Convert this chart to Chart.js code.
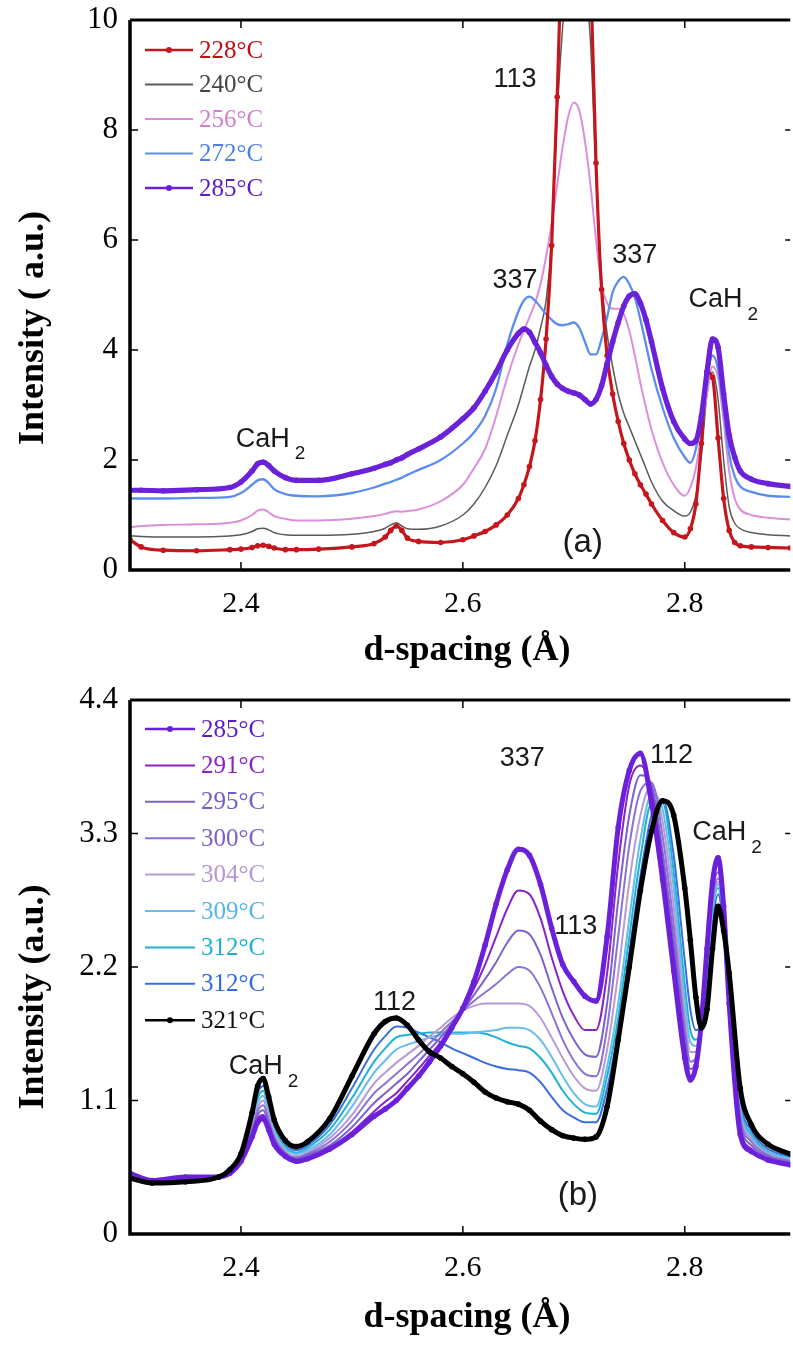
<!DOCTYPE html>
<html><head><meta charset="utf-8">
<script src="https://cdn.jsdelivr.net/npm/chart.js@4.4.1/dist/chart.umd.min.js"></script>
<style>
html,body{margin:0;padding:0;background:#fff;}
#wrap{position:relative;width:793px;height:1347px;overflow:hidden;background:#fff;}
canvas{position:absolute;left:0;}
</style></head><body>
<div id="wrap">
<canvas id="ca" width="793" height="675" style="top:0;width:793px;height:675px"></canvas>
<canvas id="cb" width="793" height="672" style="top:675px;width:793px;height:672px"></canvas>
</div>
<script>
// ---------------- Panel (a) data ----------------
const X_A = [2.30,2.31,2.33,2.36,2.39, 2.40,2.41,2.415,2.42,2.425,2.43,2.44,2.45,
  2.47,2.50,2.52,2.53,2.535,2.54,2.545,2.55,2.56,2.58,
  2.60,2.61,2.62,2.63,2.64,2.65,
  2.655,2.66,2.665,2.67,2.675,2.68,2.685,2.69,2.695,2.70,
  2.705,2.71,2.715,2.72,2.725,2.73,2.735,2.74,2.745,2.75,
  2.755,2.76,2.765,2.77,2.78,2.79,2.80,
  2.805,2.81,2.815,2.82,2.825,2.83,2.835,2.84,2.845,2.85,
  2.86,2.875,2.895];
const A228 = [0.55,0.42,0.36,0.35,0.37, 0.38,0.41,0.44,0.45,0.43,0.40,0.37,0.37,
  0.38,0.42,0.48,0.6,0.72,0.8,0.72,0.58,0.52,0.5,
  0.55,0.62,0.7,0.82,1.0,1.3,
  1.55,1.88,2.35,3.1,4.2,5.9,8.6,12,15.5,18,
  17,14.5,11,7.4,5.1,3.9,3.2,2.7,2.3,2.0,
  1.75,1.55,1.38,1.2,0.9,0.68,0.6,
  0.75,1.2,2.3,3.6,3.5,2.4,1.3,0.72,0.5,0.44,
  0.42,0.41,0.4];
const A240 = [0.62,0.61,0.6,0.6,0.62, 0.64,0.7,0.75,0.76,0.73,0.68,0.64,0.63,
  0.63,0.65,0.7,0.76,0.82,0.86,0.8,0.75,0.74,0.8,
  1.0,1.2,1.5,1.9,2.45,3.0,
  3.35,3.7,4.0,4.4,4.9,6.0,8.3,9.9,11.2,12,
  11.7,10.8,9.6,7.2,5.3,4.3,3.7,3.2,2.85,2.6,
  2.35,2.1,1.85,1.6,1.25,1.08,0.98,
  1.05,1.35,2.1,3.2,3.6,3.1,2.0,1.15,0.85,0.75,
  0.68,0.64,0.62];
const A256 = [0.78,0.8,0.82,0.83,0.86, 0.9,1.0,1.08,1.1,1.05,0.98,0.93,0.9,
  0.9,0.93,0.98,1.02,1.05,1.07,1.06,1.07,1.1,1.25,
  1.55,1.85,2.2,2.8,3.5,4.1,
  4.35,4.6,4.85,5.2,5.7,6.3,7.0,7.7,8.25,8.5,
  8.35,7.8,7.0,6.0,5.2,4.85,4.75,4.75,4.65,4.35,
  3.9,3.4,2.95,2.55,1.95,1.55,1.35,
  1.5,1.85,2.5,3.2,3.7,3.5,2.7,1.8,1.3,1.1,
  1.0,0.95,0.92];
const A272 = [1.3,1.3,1.3,1.31,1.33, 1.4,1.55,1.63,1.65,1.58,1.47,1.38,1.35,
  1.34,1.4,1.5,1.57,1.6,1.64,1.68,1.73,1.82,2.0,
  2.3,2.5,2.8,3.3,4.1,4.7,
  4.9,4.97,4.9,4.78,4.65,4.55,4.47,4.45,4.47,4.5,
  4.4,4.15,3.92,3.92,4.2,4.6,5.05,5.25,5.33,5.2,
  4.95,4.55,4.1,3.65,2.95,2.4,2.05,
  1.95,2.2,2.8,3.5,3.9,3.65,2.9,2.1,1.7,1.52,
  1.42,1.35,1.33];
const A285 = [1.45,1.45,1.44,1.46,1.5, 1.6,1.8,1.93,1.96,1.9,1.8,1.68,1.63,
  1.63,1.75,1.85,1.92,1.95,2.0,2.04,2.1,2.2,2.42,
  2.75,2.95,3.25,3.6,4.0,4.3,
  4.38,4.32,4.14,3.95,3.72,3.52,3.38,3.3,3.25,3.22,
  3.18,3.1,3.02,3.1,3.35,3.75,4.15,4.5,4.8,4.98,
  5.02,4.85,4.55,4.15,3.3,2.7,2.38,
  2.3,2.35,2.8,3.6,4.2,4.05,3.2,2.45,2.05,1.8,
  1.65,1.57,1.52];
const LABELS_A = ['228°C','240°C','256°C','272°C','285°C'];

// ---------------- Panel (b) data ----------------
const X_B = [2.30,2.32,2.35,2.38,2.39,
  2.40,2.41,2.415,2.42,2.425,2.43,2.44,2.45,2.46,
  2.48,2.50,2.52,2.53,2.54,2.55,2.56,2.57,2.58,2.59,
  2.60,2.61,2.62,2.63,2.64,2.65,2.66,2.67,2.68,2.69,
  2.70,2.71,2.72,2.73,2.74,2.75,2.76,2.77,2.78,2.79,2.80,
  2.805,2.81,2.815,2.82,2.825,2.83,2.835,2.84,
  2.85,2.86,2.875,2.895];
const B285 = [0.5,0.44,0.47,0.47,0.5,
  0.6,0.8,0.92,0.95,0.86,0.74,0.64,0.6,0.62,
  0.7,0.82,0.97,1.03,1.1,1.2,1.3,1.42,1.55,1.7,
  1.86,2.08,2.38,2.72,3.0,3.17,3.12,2.88,2.52,2.22,
  2.08,1.96,1.92,2.45,3.35,3.82,3.96,3.55,2.92,2.17,1.45,
  1.27,1.38,1.75,2.35,2.9,3.1,2.7,1.9,
  0.82,0.68,0.61,0.57];
const B291 = [0.48,0.44,0.46,0.47,0.5,
  0.61,0.82,0.95,0.98,0.88,0.76,0.65,0.61,0.63,
  0.71,0.84,1.01,1.09,1.16,1.26,1.36,1.47,1.58,1.71,
  1.85,2.02,2.22,2.45,2.68,2.83,2.8,2.6,2.28,2.0,
  1.8,1.68,1.68,2.15,3.05,3.7,3.86,3.65,3.05,2.3,1.55,
  1.3,1.38,1.72,2.3,2.85,3.05,2.72,1.95,
  0.88,0.7,0.62,0.58];
const B295 = [0.47,0.43,0.45,0.47,0.51,
  0.62,0.84,0.98,1.02,0.91,0.78,0.66,0.62,0.65,
  0.73,0.88,1.08,1.16,1.24,1.32,1.42,1.52,1.62,1.73,
  1.84,1.97,2.1,2.24,2.4,2.5,2.47,2.3,2.03,1.78,
  1.6,1.48,1.46,1.9,2.75,3.45,3.78,3.7,3.15,2.42,1.62,
  1.36,1.42,1.72,2.28,2.8,2.98,2.7,1.98,
  0.93,0.73,0.64,0.59];
const B300 = [0.47,0.43,0.45,0.47,0.51,
  0.62,0.86,1.01,1.06,0.94,0.8,0.67,0.63,0.66,
  0.76,0.93,1.16,1.24,1.32,1.4,1.48,1.57,1.66,1.75,
  1.84,1.92,1.99,2.06,2.14,2.2,2.17,2.03,1.82,1.6,
  1.43,1.32,1.3,1.7,2.45,3.2,3.65,3.72,3.28,2.55,1.7,
  1.42,1.45,1.7,2.25,2.75,2.93,2.68,2.0,
  0.97,0.76,0.65,0.6];
const B304 = [0.46,0.43,0.45,0.47,0.51,
  0.63,0.88,1.04,1.1,0.97,0.82,0.68,0.64,0.67,
  0.79,0.98,1.24,1.33,1.41,1.48,1.55,1.63,1.7,1.78,
  1.84,1.88,1.9,1.9,1.9,1.9,1.88,1.78,1.62,1.45,
  1.3,1.2,1.18,1.52,2.15,2.9,3.45,3.7,3.4,2.7,1.8,
  1.5,1.5,1.7,2.2,2.72,2.9,2.65,2.02,
  1.0,0.78,0.66,0.61];
const B309 = [0.46,0.43,0.45,0.47,0.52,
  0.63,0.9,1.08,1.14,1.0,0.85,0.7,0.66,0.69,
  0.82,1.05,1.33,1.43,1.52,1.56,1.59,1.62,1.64,1.65,
  1.65,1.66,1.67,1.68,1.7,1.7,1.68,1.6,1.46,1.3,
  1.16,1.07,1.05,1.38,1.9,2.6,3.25,3.62,3.5,2.85,1.92,
  1.58,1.55,1.7,2.15,2.68,2.88,2.62,2.05,
  1.03,0.8,0.67,0.62];
const B312C = [0.46,0.42,0.44,0.47,0.52,
  0.64,0.93,1.12,1.18,1.04,0.88,0.72,0.67,0.71,
  0.86,1.12,1.42,1.53,1.62,1.64,1.65,1.66,1.66,1.66,
  1.66,1.66,1.65,1.62,1.58,1.55,1.53,1.45,1.33,1.18,
  1.07,1.0,0.99,1.3,1.78,2.45,3.1,3.55,3.55,2.98,2.05,
  1.68,1.6,1.7,2.1,2.65,2.85,2.6,2.08,
  1.06,0.82,0.68,0.63];
const B312B = [0.46,0.42,0.44,0.47,0.52,
  0.64,0.96,1.16,1.22,1.08,0.9,0.74,0.69,0.73,
  0.9,1.2,1.52,1.63,1.71,1.7,1.66,1.62,1.58,1.53,
  1.49,1.45,1.41,1.38,1.36,1.35,1.33,1.25,1.13,1.02,
  0.96,0.92,0.92,1.2,1.68,2.32,2.95,3.45,3.58,3.12,2.25,
  1.85,1.68,1.7,2.0,2.55,2.8,2.55,2.1,
  1.1,0.85,0.7,0.64];
const B321 = [0.46,0.42,0.43,0.47,0.53,
  0.66,1.0,1.22,1.28,1.13,0.94,0.77,0.72,0.76,
  0.95,1.3,1.65,1.75,1.78,1.72,1.6,1.5,1.45,1.38,
  1.32,1.25,1.17,1.12,1.09,1.07,1.02,0.93,0.86,0.81,
  0.79,0.78,0.8,1.05,1.6,2.2,2.83,3.32,3.57,3.45,2.85,
  2.42,1.95,1.7,1.85,2.35,2.7,2.5,2.15,
  1.2,0.9,0.74,0.66];
const LABELS_B = ['285°C','291°C','295°C','300°C','304°C','309°C','312°C','312°C','321°C'];

// ---------------- axes ----------------
const X_TICKS = [2.4, 2.6, 2.8];
const Y_TICKS_A = [0, 2, 4, 6, 8, 10];
const Y_TICKS_B = [0, 1.1, 2.2, 3.3, 4.4];

// ---------------- annotations (data coords) ----------------
const NOTES_A = [
  {t:'113', x:2.647, y:8.91}, {t:'337', x:2.647, y:5.27}, {t:'337', x:2.755, y:5.71},
  {t:'CaH', sub:'2', x:2.8277, y:4.91}, {t:'CaH', sub:'2', x:2.4196, y:2.38},
  {t:'(a)', x:2.708, y:0.49, big:true}
];
const NOTES_B = [
  {t:'337', x:2.6536, y:3.92}, {t:'112', x:2.788, y:3.94}, {t:'CaH', sub:'2', x:2.831, y:3.31},
  {t:'113', x:2.7018, y:2.53}, {t:'112', x:2.5384, y:1.91}, {t:'CaH', sub:'2', x:2.4134, y:1.376},
  {t:'(b)', x:2.7036, y:0.313, big:true}
];

const SERIF = '"Liberation Serif", "Times New Roman", serif';
const SANS = '"Liberation Sans", Arial, Helvetica, sans-serif';

function ds(label, xs, ys, color, width, order, dots, textColor) {
  return {
    label, data: xs.map((x, i) => ({x, y: ys[i]})),
    borderColor: color, backgroundColor: color, borderWidth: width,
    pointRadius: dots ? 2.8 : 0, pointBackgroundColor: color, pointBorderWidth: 0,
    pointHoverRadius: 0, cubicInterpolationMode: 'monotone', order,
    dots, textColor: textColor || color
  };
}

const decor = {
  id: 'decor',
  afterDatasetsDraw(chart, args, o) {
    const {ctx, chartArea: ca, scales: {x, y}} = chart;
    ctx.save();
    ctx.strokeStyle = '#000';
    ctx.lineWidth = 1.5;
    o.xTicks.forEach(v => {
      const px = x.getPixelForValue(v);
      ctx.beginPath();
      ctx.moveTo(px, ca.bottom); ctx.lineTo(px, ca.bottom - 8);
      ctx.moveTo(px, ca.top); ctx.lineTo(px, ca.top + 8);
      ctx.stroke();
    });
    o.yTicks.forEach(v => {
      const py = y.getPixelForValue(v);
      ctx.beginPath();
      ctx.moveTo(ca.left, py); ctx.lineTo(ca.left + 8, py);
      ctx.moveTo(ca.right, py); ctx.lineTo(ca.right - 5, py);
      ctx.stroke();
    });
    ctx.lineWidth = 3.5;
    ctx.beginPath();
    ctx.moveTo(ca.left, ca.top); ctx.lineTo(ca.left, ca.bottom); ctx.lineTo(ca.right, ca.bottom);
    ctx.stroke();
    ctx.lineWidth = 3;
    ctx.beginPath(); ctx.moveTo(ca.left, ca.top); ctx.lineTo(ca.right, ca.top); ctx.stroke();

    // legend
    const L = o.legend;
    chart.data.datasets.forEach((d, i) => {
      const yy = ca.top + L.dy0 + i * L.dy;
      const x0 = ca.left + L.dx0;
      ctx.strokeStyle = d.borderColor;
      ctx.lineWidth = d.dots ? 2.6 : 2;
      ctx.beginPath(); ctx.moveTo(x0, yy); ctx.lineTo(x0 + L.len, yy); ctx.stroke();
      if (d.dots) {
        ctx.fillStyle = d.borderColor;
        ctx.beginPath(); ctx.arc(x0 + L.len / 2, yy, 3, 0, Math.PI * 2); ctx.fill();
      }
      ctx.fillStyle = d.textColor;
      ctx.font = L.size + 'px ' + SERIF;
      ctx.textAlign = 'left'; ctx.textBaseline = 'middle';
      ctx.fillText(d.label, x0 + L.len + 6, yy + 1);
    });

    // annotations
    ctx.fillStyle = '#1a1a1a';
    o.notes.forEach(n => {
      const px = x.getPixelForValue(n.x), py = y.getPixelForValue(n.y);
      ctx.font = (n.big ? 33 : 27) + 'px ' + SANS;
      ctx.textAlign = 'center'; ctx.textBaseline = 'middle';
      ctx.fillText(n.t, px, py);
      if (n.sub) {
        const w = ctx.measureText(n.t).width;
        ctx.font = '19px ' + SANS;
        ctx.textAlign = 'left';
        ctx.fillText(n.sub, px + w / 2 + 5, py + 15);
      }
    });

    // axis titles
    ctx.fillStyle = '#000';
    ctx.font = 'bold 36px ' + SERIF;
    ctx.textAlign = 'center'; ctx.textBaseline = 'middle';
    ctx.save();
    ctx.translate(o.yTitlePos[0], o.yTitlePos[1]);
    ctx.rotate(-Math.PI / 2);
    ctx.fillText(o.yTitle, 0, 0);
    ctx.restore();
    ctx.fillText(o.xTitle, o.xTitlePos[0], o.xTitlePos[1]);
    ctx.restore();
  }
};

function makeChart(id, datasets, yMax, yTicks, yFmt, padTop, xAxisH, decorOpts) {
  return new Chart(document.getElementById(id), {
    type: 'line',
    data: {datasets},
    options: {
      responsive: false, animation: false, devicePixelRatio: 1,
      layout: {padding: {top: padTop, right: 0, left: 0, bottom: 0}},
      plugins: {legend: {display: false}, tooltip: {enabled: false}, decor: decorOpts},
      elements: {line: {borderCapStyle: 'round', borderJoinStyle: 'round'}},
      scales: {
        x: {
          type: 'linear', min: 2.3, max: 2.895,
          grid: {display: false, drawTicks: false}, border: {display: false},
          afterBuildTicks: s => { s.ticks = X_TICKS.map(v => ({value: v})); },
          afterFit: s => { s.height = xAxisH; s.paddingLeft = 0; s.paddingRight = 0; },
          ticks: {padding: 16, color: '#000', font: {family: SERIF, size: 30},
                  autoSkip: false, maxRotation: 0, callback: v => Number(v).toFixed(1)}
        },
        y: {
          type: 'linear', min: 0, max: yMax,
          grid: {display: false, drawTicks: false}, border: {display: false},
          afterBuildTicks: s => { s.ticks = yTicks.map(v => ({value: v})); },
          afterFit: s => { s.width = 130; s.paddingTop = 0; s.paddingBottom = 0; },
          ticks: {padding: 12, color: '#000', font: {family: SERIF, size: 31},
                  autoSkip: false, callback: yFmt}
        }
      }
    },
    plugins: [decor]
  });
}

const dsA = [
  ds(LABELS_A[0], X_A, A228, '#c4161c', 3.2, 1, true, '#c00d14'),
  ds(LABELS_A[1], X_A, A240, '#5a5a5a', 1.5, 4, false, '#444444'),
  ds(LABELS_A[2], X_A, A256, '#dc8ed9', 2, 3, false, '#d07fd0'),
  ds(LABELS_A[3], X_A, A272, '#5b8def', 2.3, 2, false, '#4d7fe6'),
  ds(LABELS_A[4], X_A, A285, '#6a21d9', 5.2, 0, true, '#5b1dc6')
];
makeChart('ca', dsA, 10, Y_TICKS_A, v => String(v), 20, 105, {
  xTicks: X_TICKS, yTicks: Y_TICKS_A, notes: NOTES_A,
  legend: {dx0: 15, dy0: 30, dy: 34.5, len: 48, size: 25},
  yTitle: 'Intensity ( a.u.)', yTitlePos: [34, 328],
  xTitle: 'd-spacing (Å)', xTitlePos: [467, 651]
});

const dsB = [
  ds(LABELS_B[0], X_B, B285, '#6a21d9', 5, 1, true, '#5b1dc6'),
  ds(LABELS_B[1], X_B, B291, '#8b22c9', 2, 2, false, '#8a1fc4'),
  ds(LABELS_B[2], X_B, B295, '#7b62cf', 2, 3, false, '#6e5ec8'),
  ds(LABELS_B[3], X_B, B300, '#8a72d6', 2, 4, false, '#7a60cc'),
  ds(LABELS_B[4], X_B, B304, '#b89ad9', 2, 5, false, '#b596d6'),
  ds(LABELS_B[5], X_B, B309, '#66bde9', 2, 6, false, '#58b4e6'),
  ds(LABELS_B[6], X_B, B312C, '#1eb2d2', 2, 7, false, '#1ab0d0'),
  ds(LABELS_B[7], X_B, B312B, '#3a6de0', 2, 8, false, '#2f6ae0'),
  ds(LABELS_B[8], X_B, B321, '#000000', 5, 0, true, '#111111')
];
makeChart('cb', dsB, 4.4, Y_TICKS_B, v => (v === 0 ? '0' : Number(v).toFixed(1)), 25, 113, {
  xTicks: X_TICKS, yTicks: Y_TICKS_B, notes: NOTES_B,
  legend: {dx0: 15, dy0: 29, dy: 36.4, len: 50, size: 25},
  yTitle: 'Intensity (a.u.)', yTitlePos: [34, 322],
  xTitle: 'd-spacing (Å)', xTitlePos: [467, 643]
});
</script>
</body></html>
